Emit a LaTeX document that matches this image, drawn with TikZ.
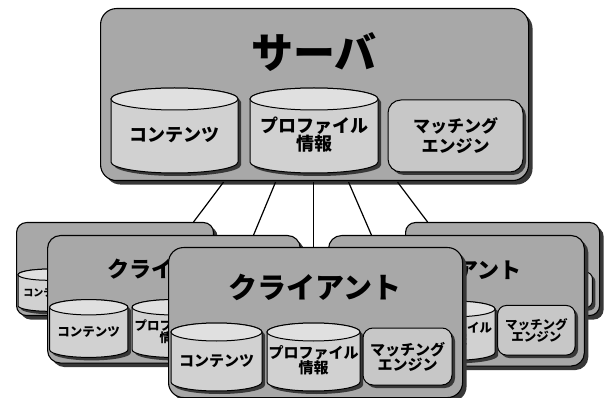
\documentclass[tikz,border=0pt]{standalone}
\usepackage{fontspec}
\newfontfamily\jp{Noto Sans CJK JP}
\usetikzlibrary{shadows,calc}
\definecolor{boxc}{gray}{0.66}
\definecolor{cylc}{gray}{0.82}
\definecolor{topc}{gray}{0.88}
\definecolor{matc}{gray}{0.78}
\definecolor{shc}{gray}{0.22}
\tikzset{
  shadowed/.style={drop shadow={shadow xshift=#1, shadow yshift=-#1, fill=shc, opacity=1}},
  box/.style={draw=black, line width=1.1pt, fill=boxc, rounded corners=#1, shadowed=4pt, inner sep=0pt},
  cylline/.style={draw=black, line width=1pt},
  cyltext/.style={inner sep=0pt, align=center},
  matbox/.style={draw=black, line width=1pt, fill=matc, rounded corners=#1, shadowed=3pt, inner sep=0pt, align=center},
  conn/.style={draw=black, line width=1.2pt},
}
% #1 name, #2 cx, #3 cy, #4 width, #5 height, #6 ry, #7 font size, #8 label
\newcommand\mycyl[8]{%
  \begin{scope}[shift={({#2},{#3})}]
    \fill[shc, shift={(3pt,-3pt)}] ({-(#4)/2*1pt},{(#5)/2*1pt-(#6)*1pt}) -- ({-(#4)/2*1pt},{-(#5)/2*1pt+(#6)*1pt})
      arc[start angle=180, end angle=360, x radius={(#4)/2*1pt}, y radius={(#6)*1pt}]
      -- ({(#4)/2*1pt},{(#5)/2*1pt-(#6)*1pt})
      arc[start angle=0, end angle=180, x radius={(#4)/2*1pt}, y radius={(#6)*1pt}] -- cycle;
    \filldraw[cylline, fill=cylc] ({-(#4)/2*1pt},{(#5)/2*1pt-(#6)*1pt}) -- ({-(#4)/2*1pt},{-(#5)/2*1pt+(#6)*1pt})
      arc[start angle=180, end angle=360, x radius={(#4)/2*1pt}, y radius={(#6)*1pt}]
      -- ({(#4)/2*1pt},{(#5)/2*1pt-(#6)*1pt})
      arc[start angle=0, end angle=180, x radius={(#4)/2*1pt}, y radius={(#6)*1pt}] -- cycle;
    \filldraw[cylline, fill=topc] (0pt,{(#5)/2*1pt-(#6)*1pt}) ellipse [x radius={(#4)/2*1pt}, y radius={(#6)*1pt}];
  \end{scope}
  \node[cyltext, font=\jp\bfseries\fontsize{#7}{#7}\selectfont] (#1) at ({#2},{(#3)+(#6)*0.4}) {#8};
}
\newcommand\client[7]{%
  \node[box={#4*15pt}, minimum width={#4*294pt}, minimum height={#5*150pt}, anchor=north west] (#1) at (#2,#3) {};
  \node[font=\jp\bfseries\fontsize{#6}{#6}\selectfont, inner sep=0pt] (#1t) at ($(#1.north west)+(#4*147,#5*40)$) {クライアント};
  \mycyl{#1a}{#2+#4*48.5}{#3+#5*110}{#4*91}{#5*68}{#5*9}{#7}{コンテンツ}
  \mycyl{#1b}{#2+#4*145.5}{#3+#5*110}{#4*93}{#5*68}{#5*9}{#7}{プロファイル\\情報}
  \node[matbox={#4*10pt}, minimum width={#4*89pt}, minimum height={#5*57pt}, font=\jp\bfseries\fontsize{#7}{#7}\selectfont] (#1c) at ($(#1.north west)+(#4*239.5,#5*109.5)$) {マッチング\\エンジン};
}
\begin{document}
\begin{tikzpicture}[x=1pt,y=-1pt]
\useasboundingbox (0,0) rectangle (608,398);
% clients, back to front
\client{bl}{16}{222}{0.67}{0.62}{17}{10}
\client{br}{405}{222}{0.66}{0.62}{17}{10}
\client{ml}{47}{235}{0.86}{0.85}{22}{12.5}
\client{mr}{328}{235}{0.87}{0.87}{22}{12.5}
\client{fr}{168}{247}{1}{1}{29}{15}
% server
\node[box=16pt, minimum width=428pt, minimum height=172pt, anchor=north west] (server) at (100,8) {};
\node[font=\jp\bfseries\fontsize{42}{42}\selectfont, inner sep=0pt] (servert) at (314,52) {サーバ};
\mycyl{sa}{174.5}{130.5}{127}{85}{11}{18}{コンテンツ}
\mycyl{sb}{314}{130.5}{128}{85}{11}{18}{プロファイル\\情報}
\node[matbox=13pt, minimum width=135pt, minimum height=72pt, font=\jp\bfseries\fontsize{17}{20}\selectfont] (sc) at (455.5,136) {マッチング\\エンジン};
% connectors
\draw[conn] ([xshift=-91pt,yshift=-1pt]server.south) -- ([xshift=78.5pt]bl.north);
\draw[conn] ([xshift=-39pt,yshift=-1pt]server.south) -- ([xshift=79.6pt]ml.north);
\draw[conn] ([xshift=-1pt,yshift=-1pt]server.south) -- ([xshift=-2pt]fr.north);
\draw[conn] ([xshift=34pt,yshift=-1pt]server.south) -- ([xshift=-85pt]mr.north);
\draw[conn] ([xshift=83pt,yshift=-1pt]server.south) -- ([xshift=-75pt]br.north);
\end{tikzpicture}
\end{document}
